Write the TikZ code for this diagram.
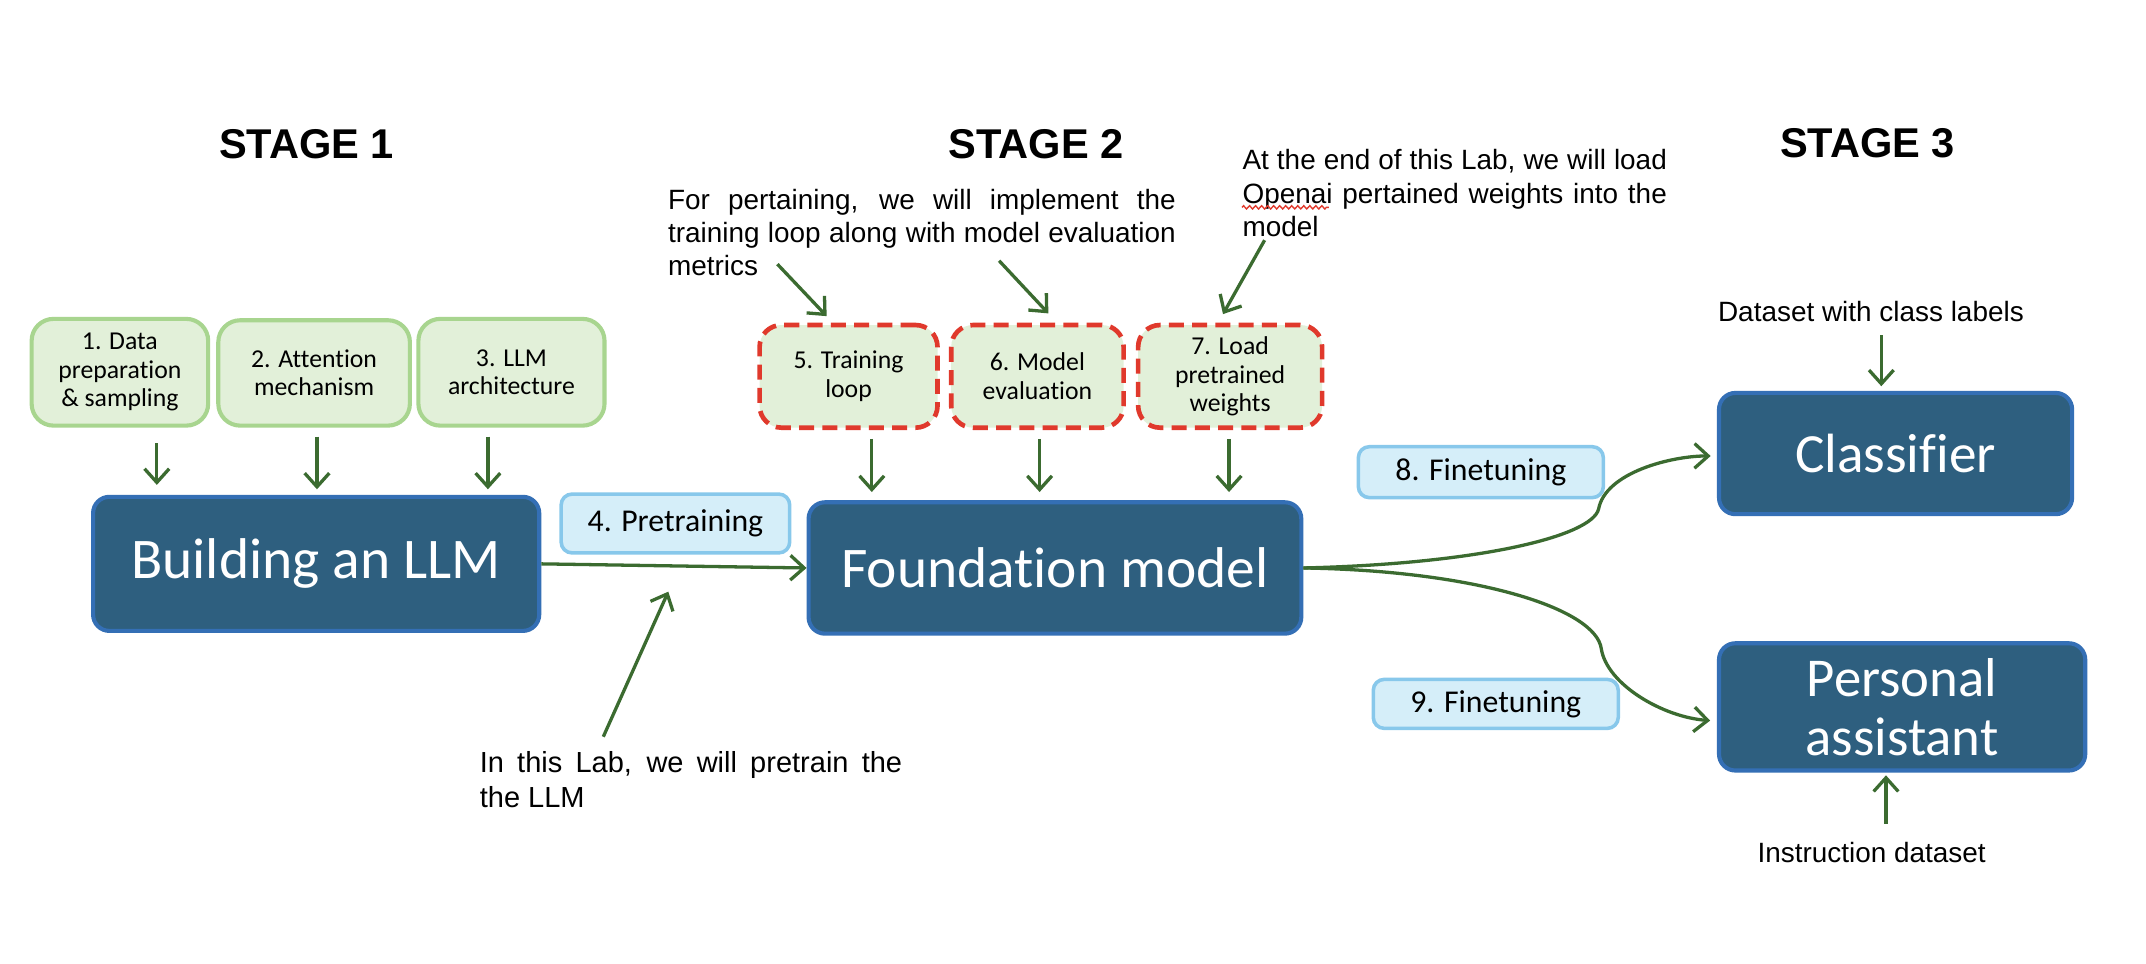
\documentclass[tikz,border=0pt]{standalone}
\usepackage{fontspec}
\setmainfont{Liberation Sans}
\newfontfamily\boxfont[Ligatures=NoCommon]{Carlito}
\usetikzlibrary{arrows.meta,decorations.pathmorphing}
\definecolor{darkfill}{HTML}{2E5F7F}
\definecolor{darkline}{HTML}{346FB5}
\definecolor{greenfill}{HTML}{E2F0D9}
\definecolor{greenline}{HTML}{A8D58F}
\definecolor{reddash}{HTML}{E0392C}
\definecolor{bluefill}{HTML}{D5EEF9}
\definecolor{blueline}{HTML}{88C8EB}
\definecolor{arrowgreen}{HTML}{3B6B30}
\begin{document}
\begin{tikzpicture}[x=0.5pt,y=-0.5pt,
  darkbox/.style={draw=darkline, fill=darkfill, line width=1.5pt, rounded corners=6pt,
    text=white, inner sep=0pt, align=center, font=\boxfont\fontsize{21}{21.5}\selectfont},
  gbox/.style={draw=greenline, fill=greenfill, line width=1.5pt, rounded corners=8pt,
    inner sep=0pt, align=center, font=\boxfont\fontsize{9.4}{10.4}\selectfont},
  rbox/.style={gbox, draw=reddash, line width=1.7pt, dash pattern=on 5.5pt off 3pt},
  lbox/.style={draw=blueline, fill=bluefill, line width=1.3pt, rounded corners=4pt,
    inner sep=0pt, font=\boxfont\fontsize{11.6}{13}\selectfont},
  stagetitle/.style={font=\bfseries\fontsize{15.2}{18}\selectfont, inner sep=0pt},
  note/.style={inner sep=0pt, align=left, anchor=north west},
  conn/.style={draw=arrowgreen, line width=1.2pt, -{Straight Barb[length=5pt,width=9pt]}},
  spell/.style={draw=reddash, line width=0.5pt, decorate,
    decoration={zigzag, amplitude=0.6pt, segment length=2.2pt}}
]
\path[use as bounding box, fill=white] (0,0) rectangle (1568,704);

% stage titles
\node[stagetitle] (st1) at (224,105) {STAGE 1};
\node[stagetitle] (st2) at (757,105) {STAGE 2};
\node[stagetitle] (st3) at (1364.5,105) {STAGE 3};

% main boxes
\node[darkbox, minimum width=163pt, minimum height=49pt] (build) at (231,412) {Building an LLM};
\node[darkbox, minimum width=180pt, minimum height=48pt] (found) at (770.8,415) {Foundation model};
\node[darkbox, font=\boxfont\fontsize{20.2}{21.5}\selectfont, minimum width=129pt, minimum height=44.3pt] (cls) at (1385,331.4) {Classifier};
\node[darkbox, font=\boxfont\fontsize{20}{21.5}\selectfont, minimum width=133.8pt, minimum height=46.5pt] (pa) at (1389.8,516.5) {Personal\\assistant};

% stage 1 boxes
\node[gbox, minimum width=64.5pt, minimum height=39pt] (b1) at (87.6,272) {1. Data\\preparation\\\& sampling};
\node[gbox, minimum width=70pt, minimum height=38.5pt] (b2) at (229.5,272.5) {2. Attention\\mechanism};
\node[gbox, minimum width=68pt, minimum height=39pt] (b3) at (373.7,272) {3. LLM\\architecture};

% stage 2 boxes
\node[rbox, minimum width=65pt, minimum height=37.5pt] (b5) at (620,275) {5. Training\\loop};
\node[rbox, minimum width=63pt, minimum height=37.5pt] (b6) at (758,275) {6. Model\\evaluation};
\node[rbox, minimum width=67.2pt, minimum height=37.5pt] (b7) at (898.8,275) {7. Load\\pretrained\\weights};

% labels
\node[lbox, minimum width=83.5pt, minimum height=21.5pt] (pre) at (493.5,382.5) {4. Pretraining};
\node[lbox, minimum width=89.5pt, minimum height=18.6pt] (ft8) at (1082,345) {8. Finetuning};
\node[lbox, minimum width=89.5pt, minimum height=17.9pt] (ft9) at (1092.9,514.3) {9. Finetuning};

% annotations
\node[note, font=\fontsize{10.2}{12}\selectfont] (anno1) at (487.7,138) {%
  \makebox[185.5pt][s]{For pertaining, we will implement the}\\
  \makebox[185.5pt][s]{training loop along with model evaluation}\\
  metrics};
\node[note, font=\fontsize{10.2}{12.1}\selectfont] (anno2) at (907.5,109) {%
  \makebox[155pt][s]{At the end of this Lab, we will load}\\
  \makebox[155pt][s]{Openai pertained weights into the}\\
  model};
\node[note, font=\fontsize{10.6}{12.65}\selectfont] (anno3) at (350.2,549) {%
  \makebox[154.3pt][s]{In this Lab, we will pretrain the}\\
  the LLM};
\node[inner sep=0pt, font=\fontsize{10.2}{12}\selectfont] (dsl) at (1367,227.8) {Dataset with class labels};
\node[inner sep=0pt, font=\fontsize{10.2}{12}\selectfont] (ins) at (1367.5,623) {Instruction dataset};

% spell-check underline
\coordinate (w1) at (907.5,151.5);
\coordinate (w2) at (971,151.5);
\draw[spell] (w1) -- (w2);

% arrow coordinates
\coordinate (s1) at (114.6,323.7);
\coordinate (s2) at (231.6,319);
\coordinate (s3) at (356.5,319);
\coordinate (s5) at (637,320.7);
\coordinate (s6) at (759.6,320.7);
\coordinate (s7) at (898,320.7);
\coordinate (a5) at (568,193);
\coordinate (t5) at (604,231);
\coordinate (a6) at (730,190.5);
\coordinate (t6) at (766,229);
\coordinate (a7) at (924,175.5);
\coordinate (t7) at (893.6,229.5);
\coordinate (a3) at (440.8,538.3);
\coordinate (t3) at (488.3,432.3);
\coordinate (sd) at (1374.6,245);
\coordinate (si) at (1378,602);

% connectors
\draw[conn, shorten >=3.6pt] (s1) -- (s1 |- build.north);
\draw[conn, shorten >=2pt] (s2) -- (s2 |- build.north);
\draw[conn, shorten >=2pt] (s3) -- (s3 |- build.north);
\draw[conn, shorten >=3pt] (s5) -- (s5 |- found.north);
\draw[conn, shorten >=3pt] (s6) -- (s6 |- found.north);
\draw[conn, shorten >=3pt] (s7) -- (s7 |- found.north);
\draw[conn] (build.east) -- (found.west);
\draw[conn] (a5) -- (t5);
\draw[conn] (a6) -- (t6);
\draw[conn] (a7) -- (t7);
\draw[conn] (a3) -- (t3);
\draw[conn, shorten >=1.7pt] (sd) -- (sd |- cls.north);
\draw[conn, shorten >=1pt] (si) -- (si |- pa.south);
\draw[conn] (found.east) .. controls (1080,412) and (1163,392) .. (1168,372)
  .. controls (1173,345) and (1222,333) .. ([shift={(-4.6,1.8)}]cls.west);
\draw[conn] (found.east) .. controls (1080,417) and (1166,445) .. (1170,474)
  .. controls (1174,500) and (1215,524) .. ([shift={(-5,10)}]pa.west);
\end{tikzpicture}
\end{document}
